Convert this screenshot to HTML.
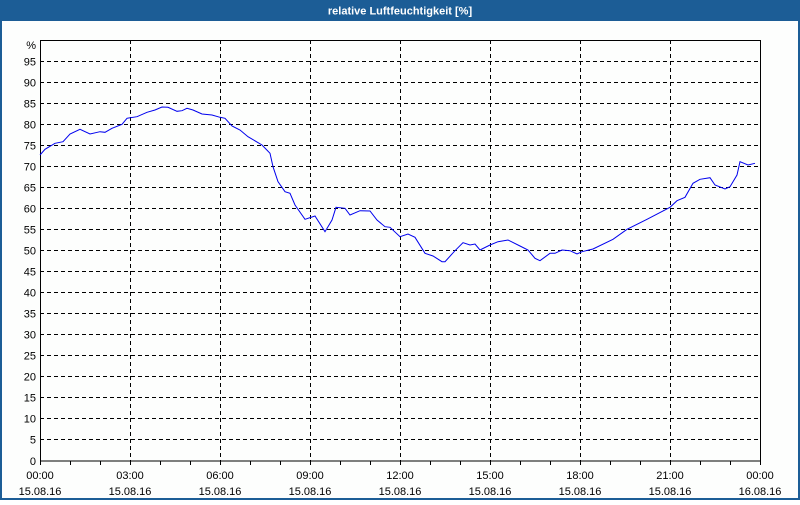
<!DOCTYPE html>
<html><head><style>
body{margin:0;width:800px;height:500px;overflow:hidden;background:#fff}
</style></head><body>
<svg width="800" height="500" xmlns="http://www.w3.org/2000/svg" font-family="Liberation Sans, sans-serif" font-size="11">
<rect x="0" y="0" width="800" height="500" fill="#1c5d96"/>
<rect x="2" y="21" width="796" height="477" fill="#fdfefd"/>
<text x="400" y="14.5" text-anchor="middle" fill="#fff" font-weight="bold" font-size="11">relative Luftfeuchtigkeit [%]</text>
<g stroke="#000" stroke-width="1" stroke-dasharray="4,3">
<line x1="40" x2="760" y1="61.5" y2="61.5"/><line x1="40" x2="760" y1="82.5" y2="82.5"/><line x1="40" x2="760" y1="103.5" y2="103.5"/><line x1="40" x2="760" y1="124.5" y2="124.5"/><line x1="40" x2="760" y1="145.5" y2="145.5"/><line x1="40" x2="760" y1="166.5" y2="166.5"/><line x1="40" x2="760" y1="187.5" y2="187.5"/><line x1="40" x2="760" y1="208.5" y2="208.5"/><line x1="40" x2="760" y1="229.5" y2="229.5"/><line x1="40" x2="760" y1="250.5" y2="250.5"/><line x1="40" x2="760" y1="271.5" y2="271.5"/><line x1="40" x2="760" y1="292.5" y2="292.5"/><line x1="40" x2="760" y1="313.5" y2="313.5"/><line x1="40" x2="760" y1="334.5" y2="334.5"/><line x1="40" x2="760" y1="355.5" y2="355.5"/><line x1="40" x2="760" y1="376.5" y2="376.5"/><line x1="40" x2="760" y1="397.5" y2="397.5"/><line x1="40" x2="760" y1="418.5" y2="418.5"/><line x1="40" x2="760" y1="439.5" y2="439.5"/>
<line x1="130.5" x2="130.5" y1="40" y2="461"/><line x1="220.5" x2="220.5" y1="40" y2="461"/><line x1="310.5" x2="310.5" y1="40" y2="461"/><line x1="400.5" x2="400.5" y1="40" y2="461"/><line x1="490.5" x2="490.5" y1="40" y2="461"/><line x1="580.5" x2="580.5" y1="40" y2="461"/><line x1="670.5" x2="670.5" y1="40" y2="461"/>
</g>
<rect x="40.5" y="40.5" width="720" height="420.5" fill="none" stroke="#000"/>
<g stroke="#000">
<path d="M70.5 461v4M100.5 461v4M130.5 461v4M160.5 461v4M190.5 461v4M220.5 461v4M250.5 461v4M280.5 461v4M310.5 461v4M340.5 461v4M370.5 461v4M400.5 461v4M430.5 461v4M460.5 461v4M490.5 461v4M520.5 461v4M550.5 461v4M580.5 461v4M610.5 461v4M640.5 461v4M670.5 461v4M700.5 461v4M730.5 461v4M40.5 461v4M760.5 461v4"/>
</g>
<polyline fill="none" stroke="#0000ee" stroke-width="1" points="40,155 45,149.3 55,143.3 63,141.7 70,134 80,129.3 90,134 100,131.7 105,132.3 112,128.3 122,124.3 127,118.3 137,116.7 147,112.3 155,110 162,107 168,107.3 177,111.3 182,110.7 187,108.3 193,110 202,114 212,115 220,117.3 225,118.3 232,126 240,130 248,136.7 262,145 270,153.3 273,166.7 278,181.7 285,191.7 290,193.3 295,205 305,219.3 315,216 325,231.7 332,220 336,207.3 345,208.3 350,215 360,210.7 370,211 377,220 385,226.7 390,227.3 400,236.7 408,234 415,237.3 425,253.3 433,256 442,261.7 445,261.7 455,250.7 463,242.7 470,245 475,244 480,250 490,245 498,241.7 508,240 520,246 528,250 535,258.3 540,260.7 550,253.3 555,253.3 562,250 570,250.7 577,254 582,251.7 593,249 613,239.3 627,229.3 647,219.3 670,207.3 677,200.7 685,197.3 693,183.3 700,179.3 710,177.7 715,185 725,189 730,186.7 737,175 740,161.7 748,165 755,163.3"/>
<g text-anchor="end" fill="#000">
<text x="36" y="49">%</text>
<text x="36" y="65.5">95</text><text x="36" y="86.5">90</text><text x="36" y="107.5">85</text><text x="36" y="128.5">80</text><text x="36" y="149.5">75</text><text x="36" y="170.5">70</text><text x="36" y="191.5">65</text><text x="36" y="212.5">60</text><text x="36" y="233.5">55</text><text x="36" y="254.5">50</text><text x="36" y="275.5">45</text><text x="36" y="296.5">40</text><text x="36" y="317.5">35</text><text x="36" y="338.5">30</text><text x="36" y="359.5">25</text><text x="36" y="380.5">20</text><text x="36" y="401.5">15</text><text x="36" y="422.5">10</text><text x="36" y="443.5">5</text><text x="36" y="465">0</text>
</g>
<g text-anchor="middle" fill="#000">
<text x="40" y="479">00:00</text><text x="40" y="495">15.08.16</text>
<text x="130" y="479">03:00</text><text x="130" y="495">15.08.16</text>
<text x="220" y="479">06:00</text><text x="220" y="495">15.08.16</text>
<text x="310" y="479">09:00</text><text x="310" y="495">15.08.16</text>
<text x="400" y="479">12:00</text><text x="400" y="495">15.08.16</text>
<text x="490" y="479">15:00</text><text x="490" y="495">15.08.16</text>
<text x="580" y="479">18:00</text><text x="580" y="495">15.08.16</text>
<text x="670" y="479">21:00</text><text x="670" y="495">15.08.16</text>
<text x="760" y="479">00:00</text><text x="760" y="495">16.08.16</text>
</g>
</svg>
</body></html>
